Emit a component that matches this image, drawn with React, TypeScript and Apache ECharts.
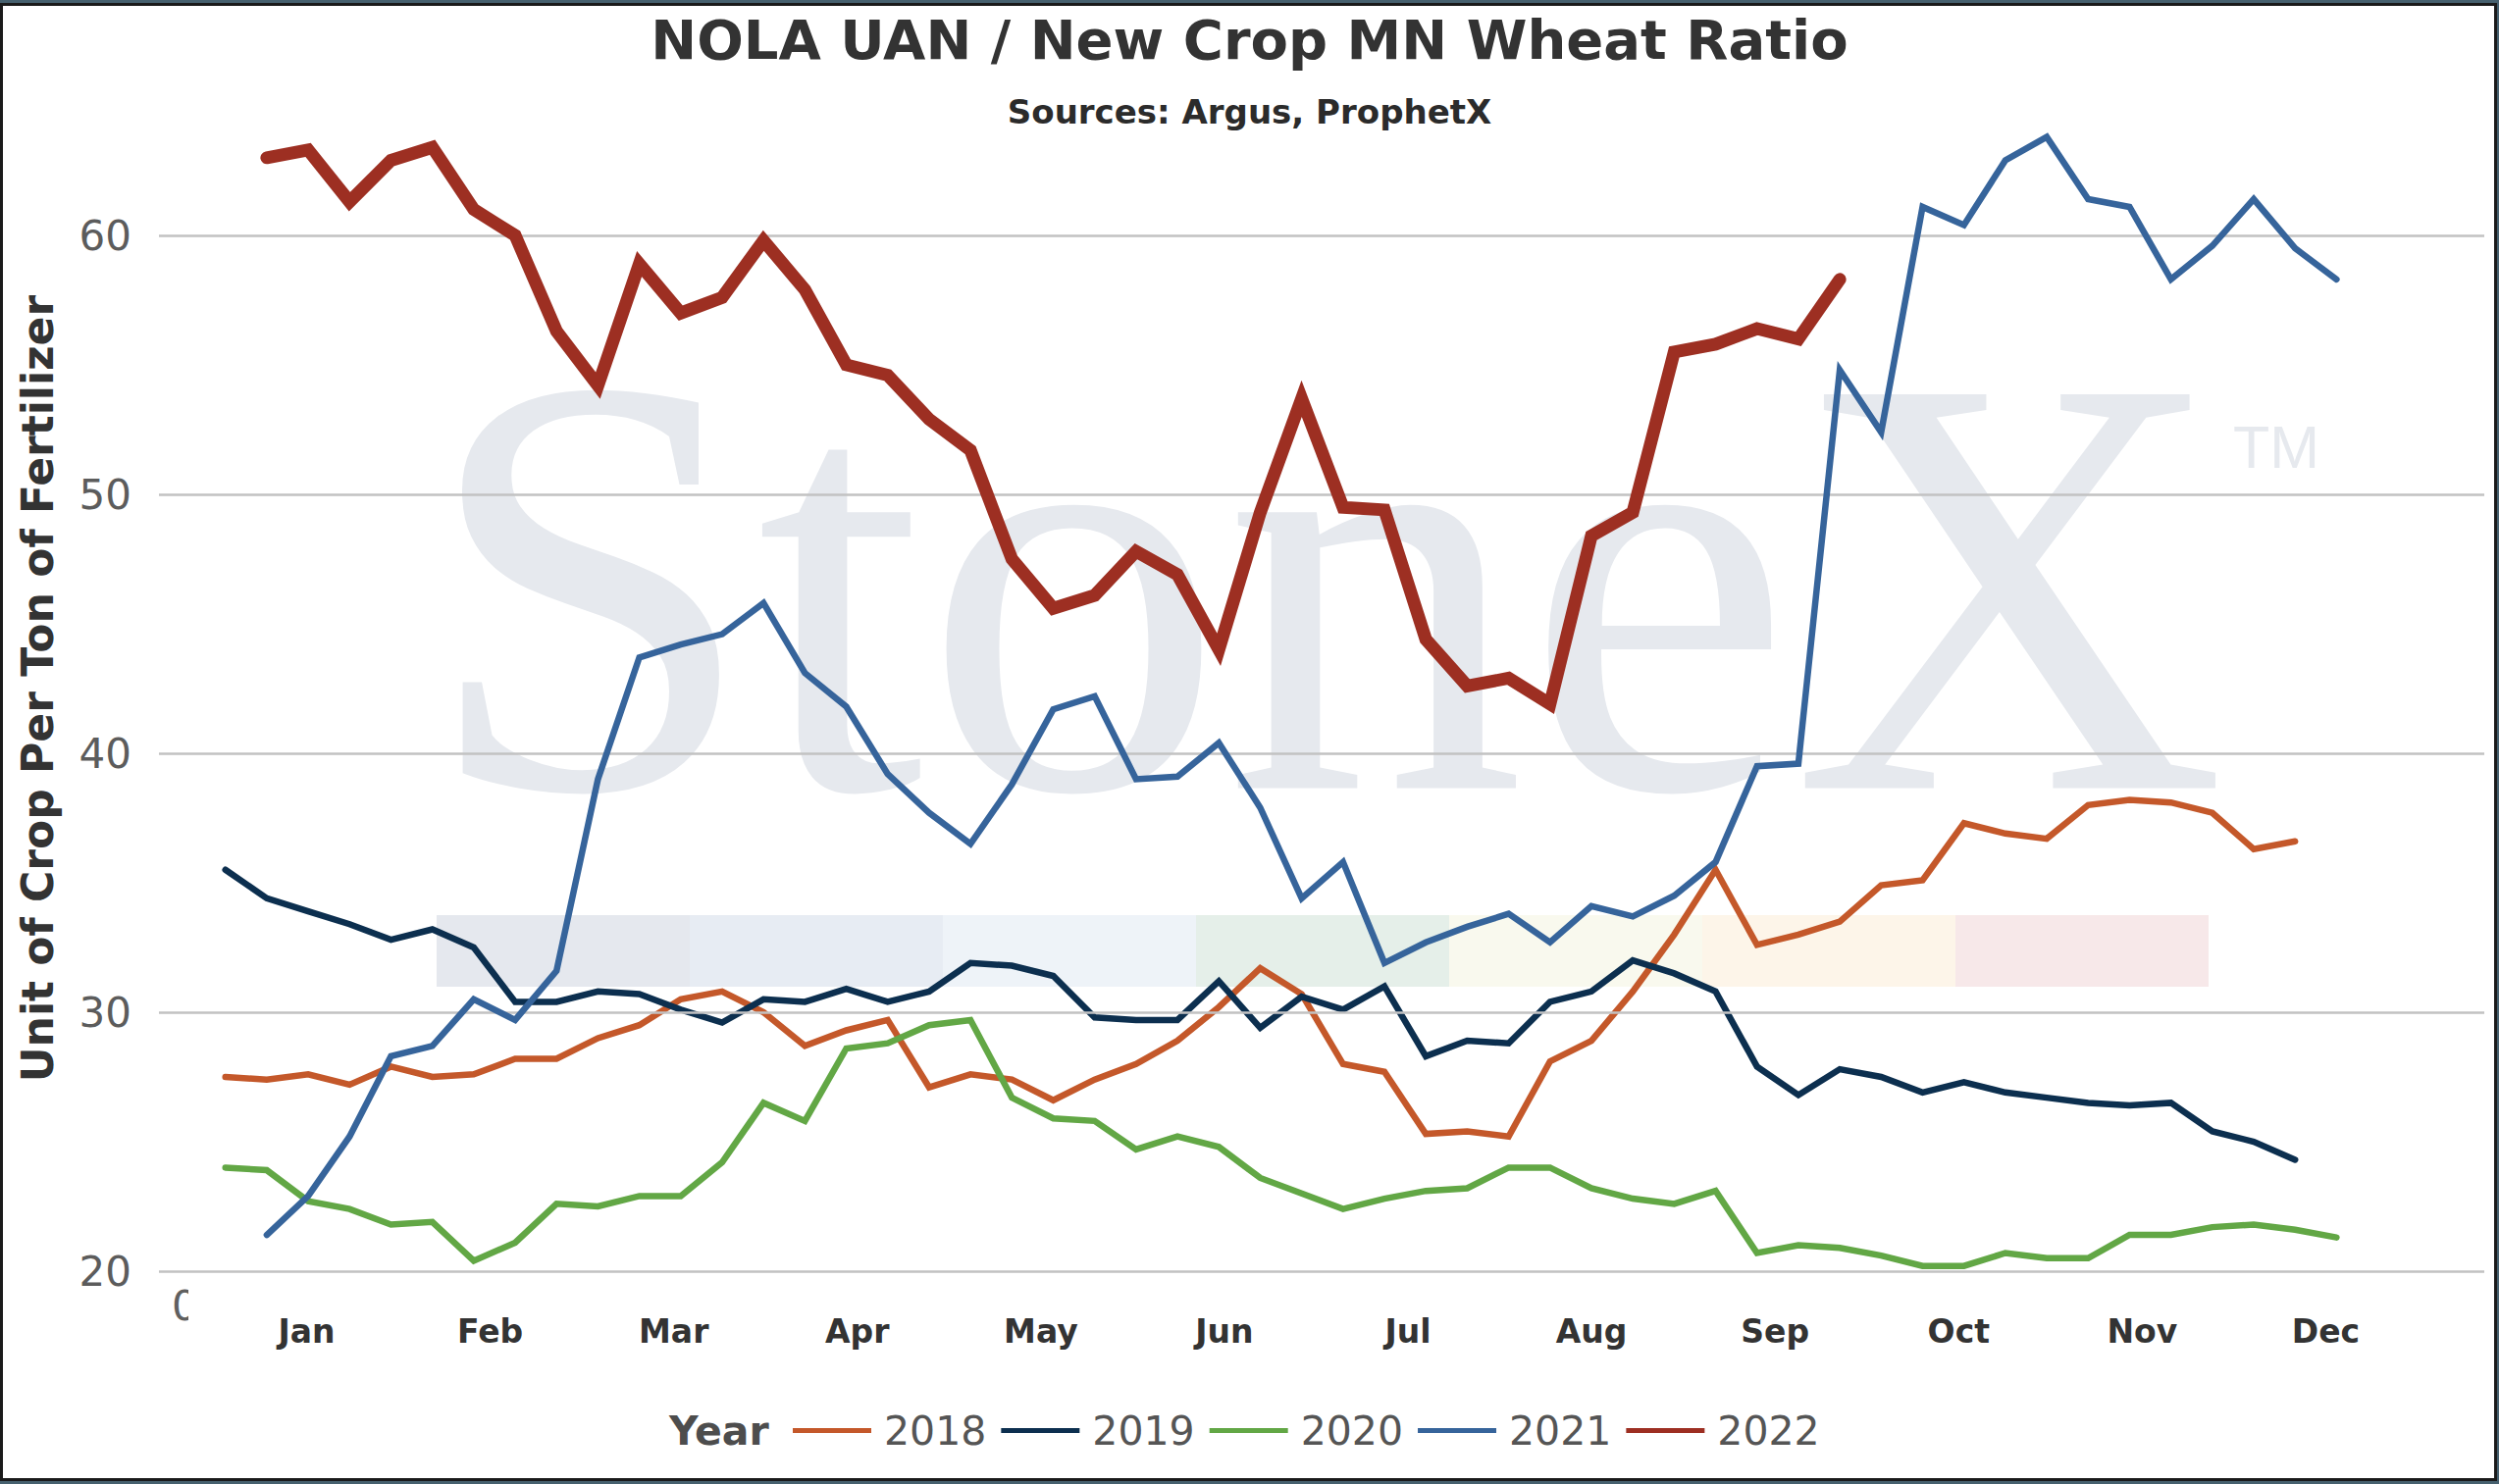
import { useEffect, useRef } from 'react'
import * as echarts from 'echarts'

// month labels on the x axis
const months = ['Jan', 'Feb', 'Mar', 'Apr', 'May', 'Jun', 'Jul', 'Aug', 'Sep', 'Oct', 'Nov', 'Dec']
const years = ['2018', '2019', '2020', '2021', '2022']
const colors = ['#c4582a', '#0c2f4f', '#62a745', '#36649b', '#9d2f22']

// weekly ratio, index 0 = first week on the axis
const v2018 = [
  27.5, 27.4, 27.6, 27.2, 27.9, 27.5, 27.6, 28.2, 28.2, 29.0, 29.5, 30.5, 30.8, 30.0, 28.7, 29.3, 29.7,
  27.1, 27.6, 27.4, 26.6, 27.4, 28.0, 28.9, 30.2, 31.7, 30.7, 28.0, 27.7, 25.3, 25.4, 25.2, 28.1, 28.9,
  30.8, 33.0, 35.5, 32.6, 33.0, 33.5, 34.9, 35.1, 37.3, 36.9, 36.7, 38.0, 38.2, 38.1, 37.7, 36.3, 36.6,
]
const v2019 = [
  35.5, 34.4, 33.9, 33.4, 32.8, 33.2, 32.5, 30.4, 30.4, 30.8, 30.7, 30.1, 29.6, 30.5, 30.4, 30.9, 30.4,
  30.8, 31.9, 31.8, 31.4, 29.8, 29.7, 29.7, 31.2, 29.4, 30.6, 30.1, 31.0, 28.3, 28.9, 28.8, 30.4, 30.8,
  32.0, 31.5, 30.8, 27.9, 26.8, 27.8, 27.5, 26.9, 27.3, 26.9, 26.7, 26.5, 26.4, 26.5, 25.4, 25.0, 24.3,
]
const v2020 = [
  24.0, 23.9, 22.7, 22.4, 21.8, 21.9, 20.4, 21.1, 22.6, 22.5, 22.9, 22.9, 24.2, 26.5, 25.8, 28.6, 28.8,
  29.5, 29.7, 26.7, 25.9, 25.8, 24.7, 25.2, 24.8, 23.6, 23.0, 22.4, 22.8, 23.1, 23.2, 24.0, 24.0, 23.2,
  22.8, 22.6, 23.1, 20.7, 21.0, 20.9, 20.6, 20.2, 20.2, 20.7, 20.5, 20.5, 21.4, 21.4, 21.7, 21.8, 21.6,
  21.3,
]
const v2021 = [
  null, 21.4, 22.9, 25.2, 28.3, 28.7, 30.5, 29.7, 31.6, 39.0, 43.7, 44.2, 44.6, 45.8, 43.1, 41.8, 39.2,
  37.7, 36.5, 38.8, 41.7, 42.2, 39.0, 39.1, 40.4, 37.9, 34.4, 35.8, 31.9, 32.7, 33.3, 33.8, 32.7, 34.1,
  33.7, 34.5, 35.8, 39.5, 39.6, 54.8, 52.4, 61.1, 60.4, 62.9, 63.8, 61.4, 61.1, 58.3, 59.6, 61.4, 59.5,
  58.3,
]
const v2022 = [
  null, 63.0, 63.3, 61.3, 62.9, 63.4, 61.0, 60.0, 56.3, 54.2, 58.9, 57.0, 57.6, 59.8, 57.9, 55.0, 54.6,
  52.9, 51.7, 47.5, 45.6, 46.1, 47.8, 46.9, 44.0, 49.3, 53.7, 49.5, 49.4, 44.4, 42.6, 42.9, 41.9, 48.4,
  49.3, 55.5, 55.8, 56.4, 56.0, 58.3,
]

const gridValues = [20, 30, 40, 50, 60]
// colours of the logo strip in the watermark
const bandColors = ['#e5e8ee', '#e7ecf3', '#eef3f8', '#e5efe9', '#f9f9ee', '#fdf5e9', '#f7e8e9']

const FONT = 'DejaVu Sans'

export default function App() {
  const chartRef = useRef<HTMLDivElement>(null)

  useEffect(() => {
    if (!chartRef.current) return
    const chart = echarts.init(chartRef.current, undefined, { renderer: 'svg' })

    const seriesValues = [v2018, v2019, v2020, v2021, v2022]

    const lines: any[] = years.map((y, k) => ({
      name: y,
      type: 'line',
      xAxisIndex: 0,
      yAxisIndex: 0,
      data: seriesValues[k].map((v, i) => [i, v]),
      showSymbol: false,
      symbol: 'none',
      z: 3 + k,
      silent: true,
      emphasis: { disabled: true },
      itemStyle: { color: colors[k] },
      lineStyle: { color: colors[k], width: k === 4 ? 13 : 6.5, cap: 'round', join: 'miter' },
    }))

    // gridlines only at the labelled values
    lines.unshift({
      name: 'grid',
      type: 'line',
      data: [],
      z: 2,
      silent: true,
      markLine: {
        silent: true,
        symbol: ['none', 'none'],
        label: { show: false },
        lineStyle: { color: '#c2c2c2', width: 2.5, type: 'solid' },
        emphasis: { disabled: true },
        data: gridValues.map((v) => ({ yAxis: v })),
      },
    })

    const option: any = {
      animation: false,
      backgroundColor: '#ffffff',
      title: {
        text: 'NOLA UAN / New Crop MN Wheat Ratio',
        subtext: 'Sources: Argus, ProphetX',
        left: 'center',
        top: 12,
        padding: 0,
        itemGap: 29,
        textStyle: { fontFamily: FONT, fontWeight: 'bold', fontSize: 56, lineHeight: 56, color: '#333333' },
        subtextStyle: { fontFamily: FONT, fontWeight: 'bold', fontSize: 34, lineHeight: 34, color: '#2b2b2b' },
      },
      legend: {
        data: years,
        left: 808,
        top: 1438,
        padding: 0,
        icon: 'rect',
        itemWidth: 80,
        itemHeight: 5,
        itemGap: 15,
        selectedMode: false,
        textStyle: { fontFamily: FONT, fontSize: 41, color: '#555555', padding: [0, 0, 0, 8] },
      },
      grid: [
        { left: 162, right: 15, top: 108, bottom: 217 },
        { left: 219, right: 83, top: 1290, bottom: 217 },
      ],
      xAxis: [
        { type: 'value', gridIndex: 0, min: -1.605, max: 54.57, show: false },
        {
          type: 'category',
          gridIndex: 1,
          data: months,
          boundaryGap: true,
          axisLine: { show: false },
          axisTick: { show: false },
          axisLabel: { interval: 0, margin: 45, fontFamily: FONT, fontWeight: 'bold', fontSize: 33, color: '#333333' },
        },
      ],
      yAxis: [
        {
          type: 'value',
          gridIndex: 0,
          min: 20,
          max: 65,
          interval: 10,
          axisLine: { show: false },
          axisTick: { show: false },
          splitLine: { show: false },
          axisLabel: {
            margin: 28,
            fontFamily: FONT,
            fontSize: 42,
            color: '#5c5c5c',
            formatter: (v: number) => (v % 10 === 0 ? String(v) : ''),
          },
          name: 'Unit of Crop Per Ton of Fertilizer',
          nameLocation: 'middle',
          nameRotate: 90,
          nameGap: 102,
          nameTextStyle: { fontFamily: FONT, fontWeight: 'bold', fontSize: 44, lineHeight: 44, color: '#333333' },
        },
        { type: 'value', gridIndex: 1, show: false },
      ],
      graphic: [
        {
          type: 'text',
          x: 430,
          y: 597,
          z: 0,
          silent: true,
          style: { text: 'StoneX', font: '613px "Liberation Serif"', fill: '#e6e9ee', align: 'left', verticalAlign: 'middle' },
        },
        {
          type: 'text',
          x: 2276,
          y: 456,
          z: 0,
          silent: true,
          style: { text: 'TM', font: '61px "Liberation Sans"', fill: '#e6e9ee', align: 'left', verticalAlign: 'middle' },
        },
        ...bandColors.map((c, i) => ({
          type: 'rect',
          z: 0,
          silent: true,
          shape: { x: 445 + i * 258, y: 933, width: 258, height: 73 },
          style: { fill: c },
        })),
        {
          type: 'text',
          x: 682,
          y: 1459,
          z: 5,
          style: { text: 'Year', font: `bold 41px "${FONT}"`, fill: '#4d4d4d', align: 'left', verticalAlign: 'middle' },
        },
        // clipped axis label at the bottom left
        {
          type: 'text',
          x: 175,
          y: 1331,
          z: 5,
          style: { text: '0', font: `42px "${FONT}"`, fill: '#606060', align: 'left', verticalAlign: 'middle' },
        },
        { type: 'rect', z: 6, shape: { x: 192, y: 1308, width: 26, height: 46 }, style: { fill: '#ffffff' } },
        // frame
        { type: 'rect', z: 20, shape: { x: 0, y: 0, width: 2547, height: 3 }, style: { fill: '#46606e' } },
        { type: 'rect', z: 20, shape: { x: 0, y: 1510, width: 2547, height: 3 }, style: { fill: '#46606e' } },
        { type: 'rect', z: 20, shape: { x: 2545, y: 0, width: 2, height: 1513 }, style: { fill: '#46606e' } },
        {
          type: 'rect',
          z: 20,
          shape: { x: 1.5, y: 4.5, width: 2542, height: 1504 },
          style: { fill: 'none', stroke: '#1a1a1a', lineWidth: 3 },
        },
      ],
      series: lines,
    }

    chart.setOption(option)

    return () => {
      chart.dispose()
    }
  }, [])

  return (
    <div
      ref={chartRef}
      style={{ position: 'fixed', left: 0, top: 0, width: '100vw', height: '100vh', background: '#ffffff' }}
    />
  )
}
